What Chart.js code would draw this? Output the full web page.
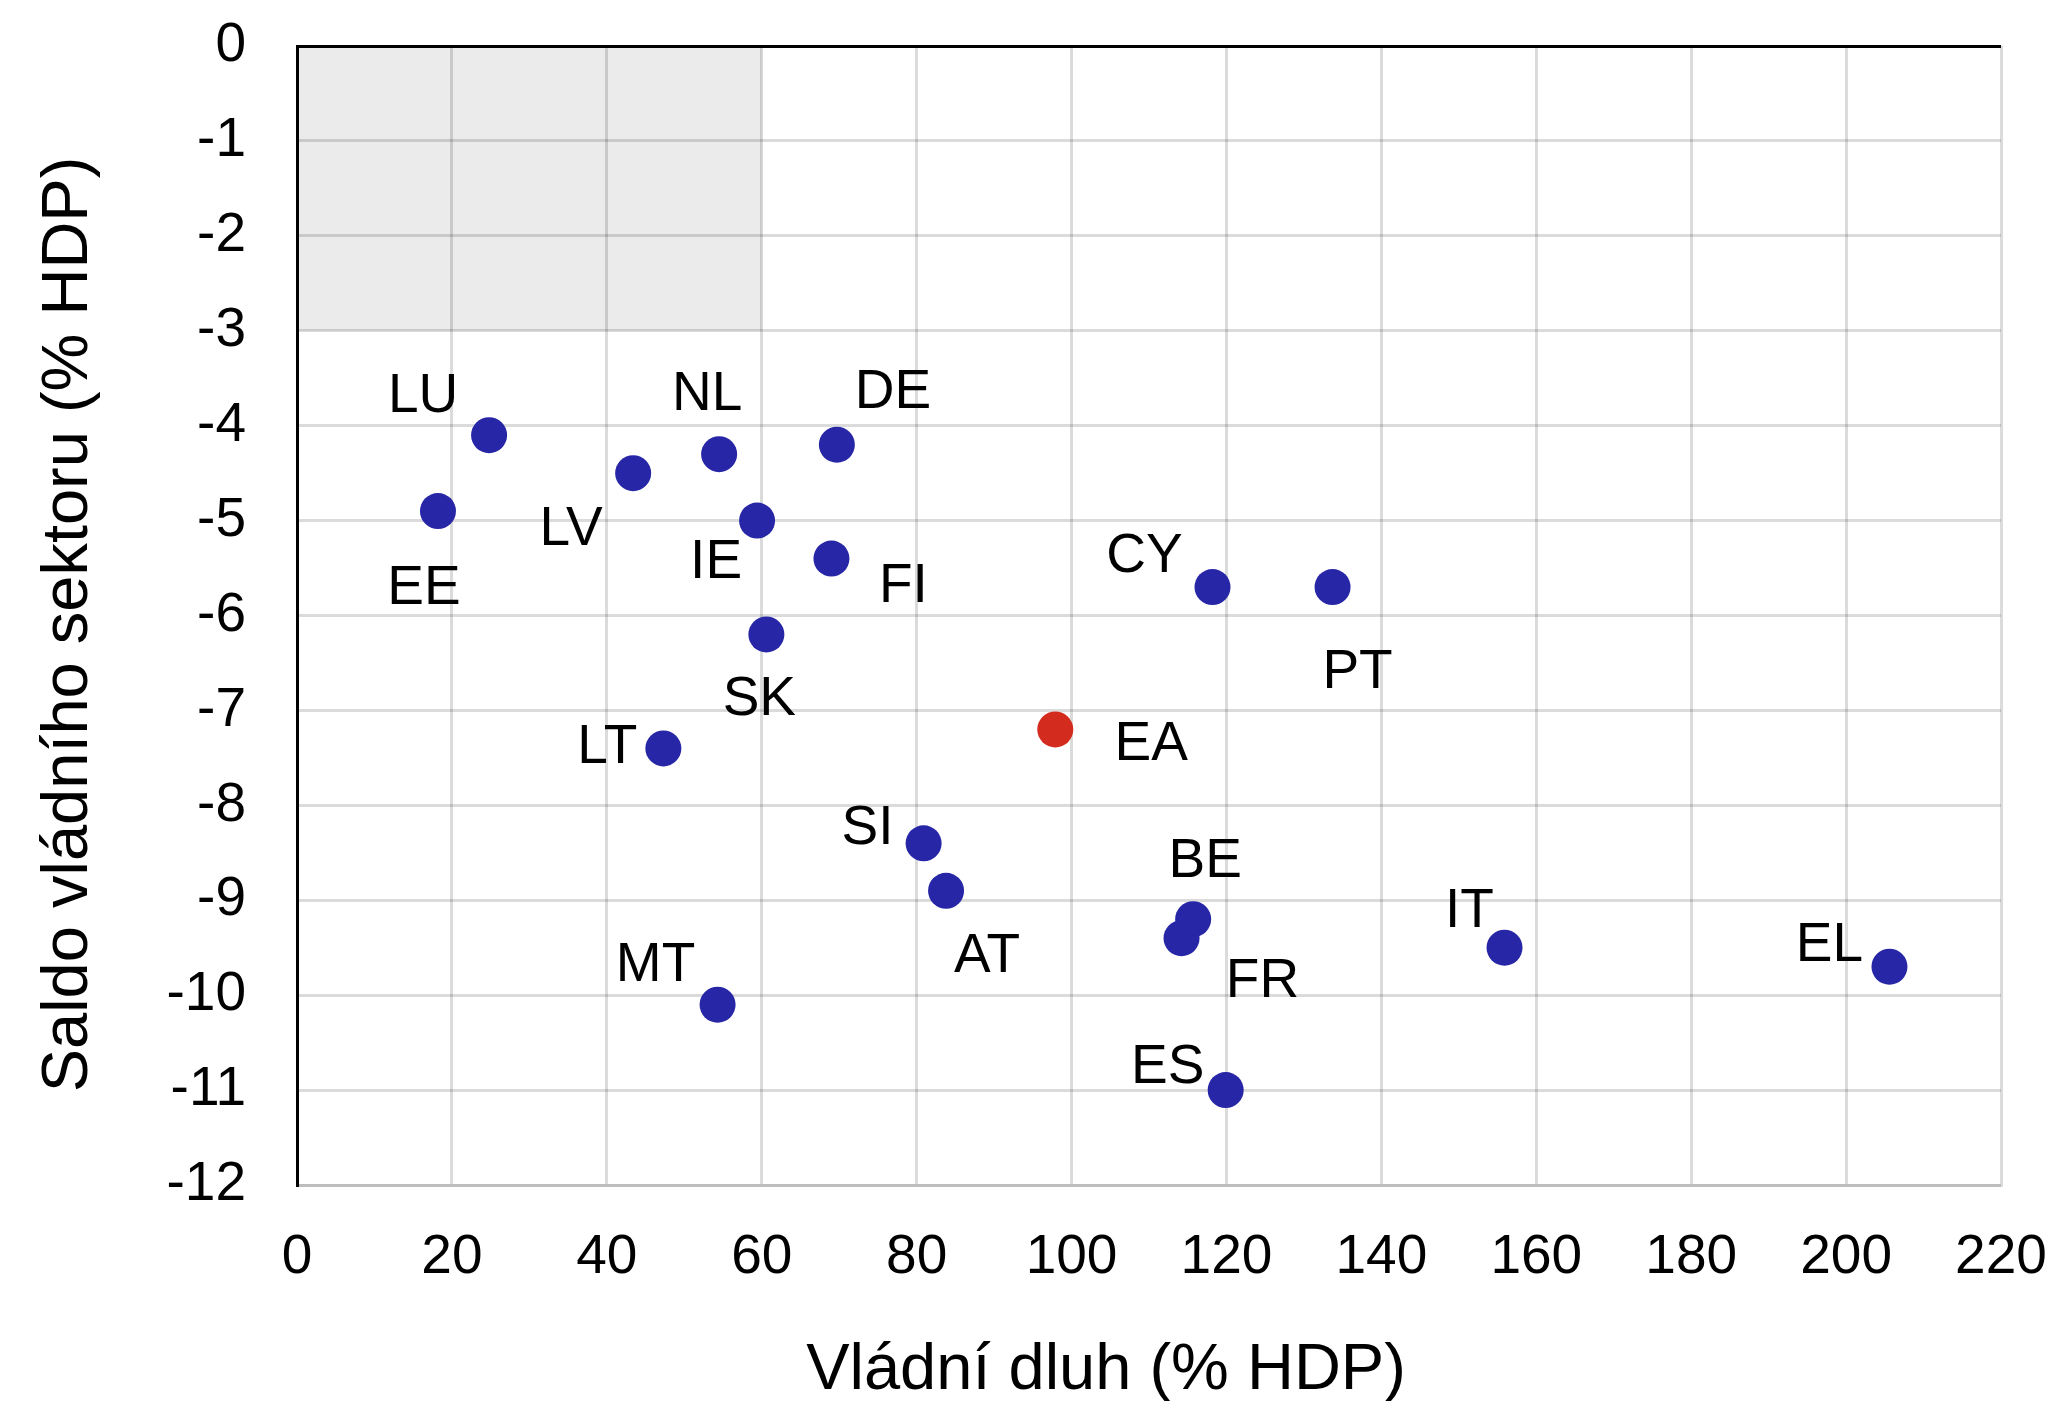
<!DOCTYPE html>
<html>
<head>
<meta charset="utf-8">
<script src="https://cdn.jsdelivr.net/npm/chart.js@4.4.0/dist/chart.umd.min.js"></script>
<style>
  html, body { margin: 0; padding: 0; background: #fff; }
  #wrap { width: 2060px; height: 1401px; }
</style>
</head>
<body>
<div id="wrap"><canvas id="debtChart"></canvas></div>
<script>
// data
const countries = ['LU', 'EE', 'LV', 'NL', 'IE', 'DE', 'FI', 'SK', 'LT', 'EA', 'CY', 'PT', 'SI', 'AT', 'MT', 'BE', 'FR', 'IT', 'EL', 'ES'];
const debt = [24.8, 18.2, 43.4, 54.5, 59.4, 69.7, 69.0, 60.6, 47.3, 97.9, 118.2, 133.7, 80.9, 83.8, 54.3, 115.7, 114.2, 155.9, 205.6, 119.9];
const balance = [-4.1, -4.9, -4.5, -4.3, -5.0, -4.2, -5.4, -6.2, -7.4, -7.2, -5.7, -5.7, -8.4, -8.9, -10.1, -9.2, -9.4, -9.5, -9.7, -11.0];
const xTicks = [0, 20, 40, 60, 80, 100, 120, 140, 160, 180, 200, 220];
const yTicks = [0, -1, -2, -3, -4, -5, -6, -7, -8, -9, -10, -11, -12];
// Maastricht box: debt 0..60, deficit 0..-3
const boxDebt = [0, 60];
const boxBalance = [-3, 0];
const xTitle = 'Vládní dluh (% HDP)';
const yTitle = 'Saldo vládního sektoru (% HDP)';

// label placement around the point (px), like hand-moved Excel labels
const labelOffsets = {
    LU: [-66, -38], EE: [-14, 78], LV: [-62, 57], NL: [-12, -59], IE: [-41, 42],
    DE: [56, -52], FI: [72, 28], SK: [-7, 65], LT: [-56, -1], EA: [96, 15],
    CY: [-68, -30], PT: [25, 86], SI: [-56, -14], AT: [41, 66], MT: [-62, -39],
    BE: [12, -57], FR: [81, 44], IT: [-35, -36], EL: [-60, -21], ES: [-58, -22]
};

const FONT = '"Liberation Sans", Arial, sans-serif';
const BLUE = '#2626A6';
const RED = '#D42B1F';
const GRID = 'rgba(0,0,0,0.14)';

const points = countries.map((c, i) => ({ x: debt[i], y: balance[i], name: c }));

// shaded box under the grid
const boxPlugin = {
    id: 'box',
    beforeDraw(chart) {
        const { ctx, scales } = chart;
        const x1 = scales.x.getPixelForValue(boxDebt[0]);
        const x2 = scales.x.getPixelForValue(boxDebt[1]);
        const y1 = scales.y.getPixelForValue(boxBalance[1]);
        const y2 = scales.y.getPixelForValue(boxBalance[0]);
        ctx.save();
        ctx.fillStyle = '#EBEBEB';
        ctx.fillRect(x1, y1, x2 - x1, y2 - y1);
        ctx.restore();
    }
};

// country codes next to the dots + both axis titles (Excel puts them a bit off centre)
const labelPlugin = {
    id: 'pointLabels',
    afterDatasetsDraw(chart) {
        const ctx = chart.ctx;
        const meta = chart.getDatasetMeta(0);
        ctx.save();
        ctx.font = '55px ' + FONT;
        ctx.fillStyle = '#000';
        ctx.textAlign = 'center';
        ctx.textBaseline = 'middle';
        meta.data.forEach((el, i) => {
            const name = countries[i];
            const off = labelOffsets[name] || [0, -40];
            ctx.fillText(name, el.x + off[0], el.y + off[1]);
        });
        const sx = chart.scales.x;
        const sy = chart.scales.y;
        ctx.font = '65px ' + FONT;
        ctx.fillText(xTitle, (sx.left + sx.right) / 2 - 43, sx.bottom - 30);
        ctx.translate(sy.left + 69, (sy.top + sy.bottom) / 2 + 9);
        ctx.rotate(-Math.PI / 2);
        ctx.fillText(yTitle, 0, 0);
        ctx.restore();
    }
};

const ctx = document.getElementById('debtChart').getContext('2d');
new Chart(ctx, {
    type: 'scatter',
    data: {
        datasets: [{
            data: points,
            backgroundColor: c => (countries[c.dataIndex] === 'EA' ? RED : BLUE),
            borderWidth: 0,
            pointRadius: 18,
            pointHoverRadius: 18
        }]
    },
    options: {
        responsive: true,
        maintainAspectRatio: false,
        animation: false,
        events: [],
        layout: { padding: { top: 46, right: 59, bottom: 0, left: 0 } },
        plugins: {
            legend: { display: false },
            tooltip: { enabled: false }
        },
        scales: {
            x: {
                type: 'linear',
                min: 0,
                max: 220,
                afterBuildTicks: s => { s.ticks = xTicks.map(v => ({ value: v })); },
                afterFit: s => {
                    s.height = 216;
                    s.paddingLeft = 0;
                    s.paddingRight = 0;
                },
                ticks: {
                    color: '#000',
                    font: { family: FONT, size: 55 },
                    padding: 40,
                    maxRotation: 0
                },
                grid: {
                    color: c => (c.tick && c.tick.value === 0 ? '#000' : GRID),
                    lineWidth: 3,
                    drawTicks: false
                },
                border: { color: GRID, width: 3 },
                title: { display: false }
            },
            y: {
                type: 'linear',
                min: -12,
                max: 0,
                afterBuildTicks: s => { s.ticks = yTicks.map(v => ({ value: v })); },
                afterFit: s => {
                    s.width = 297;
                    s.paddingTop = 0;
                    s.paddingBottom = 0;
                },
                ticks: {
                    color: '#000',
                    font: { family: FONT, size: 55 },
                    padding: 51
                },
                grid: {
                    color: c => (c.tick && c.tick.value === 0 ? '#000' : GRID),
                    lineWidth: 3,
                    drawTicks: false
                },
                border: { color: '#000', width: 3 },
                title: { display: false }
            }
        }
    },
    plugins: [boxPlugin, labelPlugin]
});
</script>
</body>
</html>
